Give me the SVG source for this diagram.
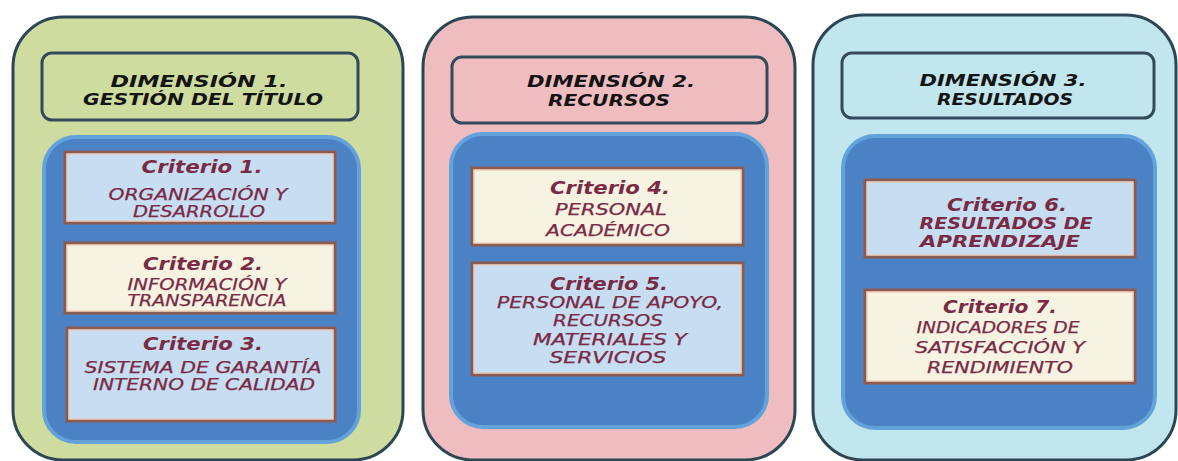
<svg xmlns="http://www.w3.org/2000/svg" width="1178" height="461" viewBox="0 0 1178 461">
<style>
.outer{stroke:#2c4656;stroke-width:3}
.head{stroke:#34495a;stroke-width:3}
.inner{fill:#4a82c5;stroke:#63a2da;stroke-width:4}
.crit{stroke:#8c5a50;stroke-width:3}
.critin{fill:none;stroke:#f1c9b0;stroke-width:1.2}
.blue{fill:#c7ddf2}
.cream{fill:#f6f3e2}
text{font-family:"DejaVu Sans","Verdana",sans-serif;text-anchor:middle;font-style:italic}
.h{font-size:16px;font-weight:bold;fill:#141414}
.ct{font-size:17px;font-weight:bold;fill:#7a2a45}
.cb{font-size:15px;fill:#7a2a45;stroke:#7a2a45;stroke-width:0.25}
.cbb{font-size:16px;font-weight:bold;fill:#7a2a45}
</style>
<rect width="1178" height="461" fill="#ffffff"/>

<g id="dim1">
<rect class="outer" x="13" y="17" width="390" height="443" rx="50" fill="#cfdc9f"/>
<rect class="head" x="42" y="53" width="316" height="67" rx="10" fill="#cfdc9f"/>
<text class="h" x="199" y="87" textLength="177" lengthAdjust="spacingAndGlyphs">DIMENSIÓN 1.</text>
<text class="h" x="203" y="105" textLength="240" lengthAdjust="spacingAndGlyphs">GESTIÓN DEL TÍTULO</text>
<rect class="inner" x="44" y="137" width="315" height="305" rx="32"/>
</g>
<g id="crit1">
<rect class="crit blue" x="65" y="152" width="270" height="71"/>
<rect class="critin" x="67" y="154" width="266" height="67"/>
<text class="ct" x="202" y="173" textLength="121" lengthAdjust="spacingAndGlyphs">Criterio 1.</text>
<text class="cb" x="198" y="200" textLength="179" lengthAdjust="spacingAndGlyphs">ORGANIZACIÓN Y</text>
<text class="cb" x="199" y="217" textLength="132" lengthAdjust="spacingAndGlyphs">DESARROLLO</text>
</g>
<g id="crit2">
<rect class="crit cream" x="65" y="243" width="270" height="70"/>
<rect class="critin" x="67" y="245" width="266" height="66"/>
<text class="ct" x="203" y="270" textLength="120" lengthAdjust="spacingAndGlyphs">Criterio 2.</text>
<text class="cb" x="207" y="290" textLength="159" lengthAdjust="spacingAndGlyphs">INFORMACIÓN Y</text>
<text class="cb" x="207" y="306" textLength="159" lengthAdjust="spacingAndGlyphs">TRANSPARENCIA</text>
</g>
<g id="crit3">
<rect class="crit blue" x="67" y="328" width="268" height="93"/>
<rect class="critin" x="69" y="330" width="264" height="89"/>
<text class="ct" x="203" y="350" textLength="120" lengthAdjust="spacingAndGlyphs">Criterio 3.</text>
<text class="cb" x="203" y="373" textLength="237" lengthAdjust="spacingAndGlyphs">SISTEMA DE GARANTÍA</text>
<text class="cb" x="204" y="390" textLength="222" lengthAdjust="spacingAndGlyphs">INTERNO DE CALIDAD</text>
</g>

<g id="dim2">
<rect class="outer" x="423" y="17" width="372" height="443" rx="50" fill="#efbcc0"/>
<rect class="head" x="452" y="57" width="315" height="66" rx="10" fill="#efbcc0"/>
<text class="h" x="611" y="87" textLength="168" lengthAdjust="spacingAndGlyphs">DIMENSIÓN 2.</text>
<text class="h" x="609" y="106" textLength="122" lengthAdjust="spacingAndGlyphs">RECURSOS</text>
<rect class="inner" x="451" y="134" width="316" height="293" rx="32"/>
</g>
<g id="crit4">
<rect class="crit cream" x="472" y="168" width="271" height="77"/>
<rect class="critin" x="474" y="170" width="267" height="73"/>
<text class="ct" x="610" y="194" textLength="120" lengthAdjust="spacingAndGlyphs">Criterio 4.</text>
<text class="cb" x="611" y="215" textLength="112" lengthAdjust="spacingAndGlyphs">PERSONAL</text>
<text class="cb" x="608" y="236" textLength="124" lengthAdjust="spacingAndGlyphs">ACADÉMICO</text>
</g>
<g id="crit5">
<rect class="crit blue" x="472" y="263" width="271" height="112"/>
<rect class="critin" x="474" y="265" width="267" height="108"/>
<text class="ct" x="609" y="290" textLength="118" lengthAdjust="spacingAndGlyphs">Criterio 5.</text>
<text class="cb" x="610" y="308" textLength="226" lengthAdjust="spacingAndGlyphs">PERSONAL DE APOYO,</text>
<text class="cb" x="608" y="326" textLength="110" lengthAdjust="spacingAndGlyphs">RECURSOS</text>
<text class="cb" x="610" y="345" textLength="154" lengthAdjust="spacingAndGlyphs">MATERIALES Y</text>
<text class="cb" x="608" y="363" textLength="117" lengthAdjust="spacingAndGlyphs">SERVICIOS</text>
</g>

<g id="dim3">
<rect class="outer" x="813" y="15" width="363" height="445" rx="50" fill="#c2e6ee"/>
<rect class="head" x="842" y="53" width="312" height="65" rx="10" fill="#c2e6ee"/>
<text class="h" x="1003" y="86" textLength="167" lengthAdjust="spacingAndGlyphs">DIMENSIÓN 3.</text>
<text class="h" x="1005" y="105" textLength="136" lengthAdjust="spacingAndGlyphs">RESULTADOS</text>
<rect class="inner" x="843" y="136" width="312" height="292" rx="32"/>
</g>
<g id="crit6">
<rect class="crit blue" x="865" y="180" width="270" height="77"/>
<rect class="critin" x="867" y="182" width="266" height="73"/>
<text class="ct" x="1007" y="211" textLength="120" lengthAdjust="spacingAndGlyphs">Criterio 6.</text>
<text class="cbb" x="1006" y="229" textLength="173" lengthAdjust="spacingAndGlyphs">RESULTADOS DE</text>
<text class="cbb" x="1000" y="247" textLength="160" lengthAdjust="spacingAndGlyphs">APRENDIZAJE</text>
</g>
<g id="crit7">
<rect class="crit cream" x="865" y="290" width="270" height="93"/>
<rect class="critin" x="867" y="292" width="266" height="89"/>
<text class="ct" x="1000" y="313" textLength="114" lengthAdjust="spacingAndGlyphs">Criterio 7.</text>
<text class="cb" x="998" y="333" textLength="163" lengthAdjust="spacingAndGlyphs">INDICADORES DE</text>
<text class="cb" x="1000" y="353" textLength="170" lengthAdjust="spacingAndGlyphs">SATISFACCIÓN Y</text>
<text class="cb" x="1000" y="373" textLength="146" lengthAdjust="spacingAndGlyphs">RENDIMIENTO</text>
</g>

<g id="connectors"></g>
</svg>
